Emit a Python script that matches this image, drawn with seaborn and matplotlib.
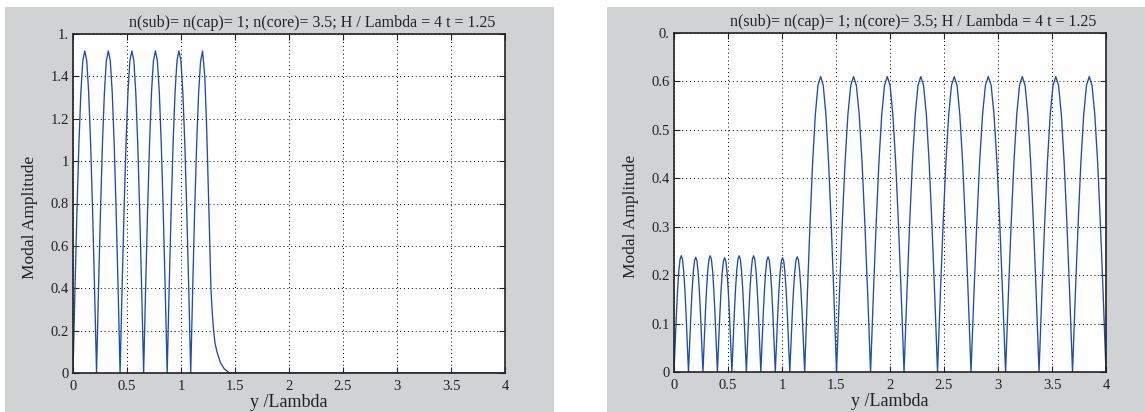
import numpy as np
import pandas as pd
import matplotlib
matplotlib.use('agg')
import matplotlib.pyplot as plt
import seaborn as sns
from matplotlib.patches import Rectangle

title_text = "n(sub)= n(cap)= 1; n(core)= 3.5; H / Lambda = 4 t = 1.25"

# one |E| hump, relative position and relative height
hump_frac = [0, 1/12, 2/12, 3/12, 4/12, 5/12, 6/12, 7/12, 8/12, 9/12, 10/12, 11/12, 1]
hump_prof = [0, 0.26, 0.50, 0.71, 0.87, 0.97, 1.0, 0.97, 0.87, 0.71, 0.50, 0.26, 0]

# left panel: zeros of the guided humps, peak heights, then the last hump + evanescent tail
left_zeros = [0, 0.218, 0.436, 0.654, 0.872, 1.09]
left_heights = [1.52, 1.52, 1.52, 1.52, 1.52]
left_tail_x = [1.09, 1.108, 1.126, 1.145, 1.163, 1.181, 1.20, 1.22, 1.235, 1.246, 1.262,
               1.277, 1.29, 1.302, 1.315, 1.333, 1.364, 1.40, 1.45, 4.0]
left_tail_y = [0, 0.39, 0.76, 1.08, 1.32, 1.47, 1.52, 1.40, 1.20, 1.00, 0.70,
               0.40, 0.28, 0.20, 0.14, 0.10, 0.05, 0.02, 0.0, 0.0]

# right panel: small humps in the core, big humps outside
right_zeros = [0, 0.134, 0.268, 0.402, 0.536, 0.67, 0.804, 0.938, 1.072, 1.21,
               1.505, 1.82, 2.13, 2.44, 2.75, 3.07, 3.38, 3.69, 4.0]
right_heights = [0.240, 0.237, 0.240, 0.236, 0.240, 0.240, 0.238, 0.236, 0.238,
                 0.61, 0.61, 0.61, 0.61, 0.61, 0.61, 0.61, 0.61, 0.61]


def build_humps(zeros, heights):
    xs, ys = [], []
    for i, h in enumerate(heights):
        a, b = zeros[i], zeros[i + 1]
        for f, p in zip(hump_frac, hump_prof):
            xs.append(a + f * (b - a))
            ys.append(p * h)
    return xs, ys


lx, ly = build_humps(left_zeros, left_heights)
left_df = pd.DataFrame({'y_lambda': lx + left_tail_x, 'amp': ly + left_tail_y})
rx, ry = build_humps(right_zeros, right_heights)
right_df = pd.DataFrame({'y_lambda': rx, 'amp': ry})

sns.set_theme(style="ticks")
plt.rcParams['font.family'] = ['Liberation Serif', 'DejaVu Serif']

W, H = 1145, 412
fig = plt.figure(figsize=(W / 100, H / 100), dpi=100, facecolor='white')

# grey panel backgrounds
grey = '#d1d2d4'
fig.patches.append(Rectangle((5 / W, 0), 549 / W, 405 / H, transform=fig.transFigure,
                             facecolor=grey, edgecolor='none', zorder=-10))
fig.patches.append(Rectangle((607 / W, 0), 538 / W, 405 / H, transform=fig.transFigure,
                             facecolor=grey, edgecolor='none', zorder=-10))

ax1 = fig.add_axes([73 / W, 39 / H, 432 / W, 339 / H])
ax2 = fig.add_axes([674 / W, 40 / H, 432 / W, 339 / H])

line_color = '#1d4bae'
panels = [
    (ax1, left_df, 1.6, np.arange(0, 1.61, 0.2), ['0', '0.2', '0.4', '0.6', '0.8', '1', '1.2', '1.4', '1.']),
    (ax2, right_df, 0.7, np.arange(0, 0.71, 0.1), ['0', '0.1', '0.2', '0.3', '0.4', '0.5', '0.6', '0.']),
]

for ax, df, ytop, yt, ylabs in panels:
    ax.set_facecolor('white')
    sns.lineplot(data=df, x='y_lambda', y='amp', ax=ax, color=line_color, lw=0.95,
                 sort=False, estimator=None)
    ax.set_xlim(0, 4)
    ax.set_ylim(0, ytop)
    ax.set_xticks(np.arange(0, 4.01, 0.5))
    ax.set_xticklabels(['0', '0.5', '1', '1.5', '2', '2.5', '3', '3.5', '4'])
    ax.set_yticks(yt)
    ax.set_yticklabels(ylabs)
    ax.grid(True, color='black', linestyle=(0, (1, 3)), linewidth=0.7)
    ax.tick_params(direction='in', top=True, right=True, length=4, width=0.8,
                   labelsize=10.5, colors='#222222')
    ax.tick_params(axis='x', pad=5)
    ax.tick_params(axis='y', pad=3)
    for s in ax.spines.values():
        s.set_linewidth(1.2)
        s.set_color('#222222')
    t = ax.set_title(title_text, fontsize=11.5, pad=5, color='#222222')
    t.set_x(0.554)
    ax.set_xlabel('y /Lambda', fontsize=13, labelpad=1, color='#222222')
    ax.set_ylabel('Modal Amplitude', fontsize=12.5, color='#222222')
    ax.yaxis.set_label_coords(-0.081, 0.46)

fig.savefig('out.png', dpi=100, facecolor='white')
